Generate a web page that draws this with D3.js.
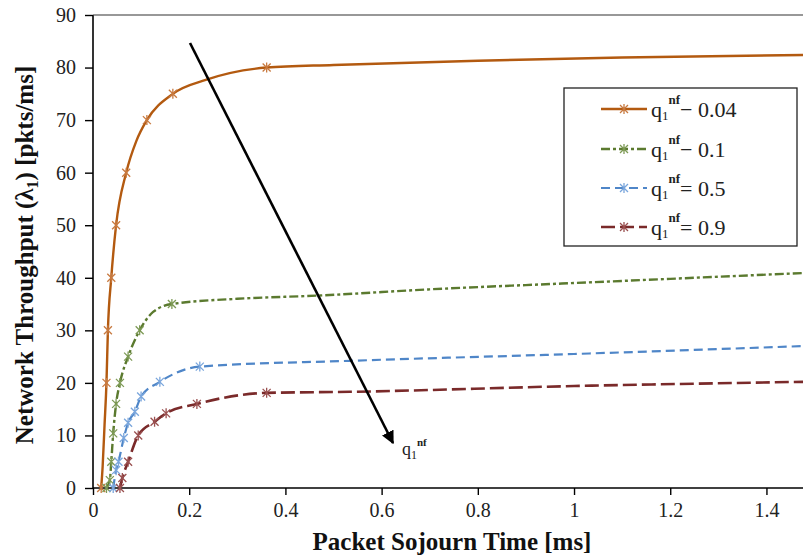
<!DOCTYPE html>
<html>
<head>
<meta charset="utf-8">
<script src="https://cdn.jsdelivr.net/npm/d3@7"></script>
<style>
  html, body { margin: 0; padding: 0; background: #fff; }
  svg { display: block; }
</style>
</head>
<body>
<svg id="chart" width="803" height="556" font-family="'Liberation Serif', 'Times New Roman', serif"></svg>
<script>
// ---- data ----
const xTicks = [0, 0.2, 0.4, 0.6, 0.8, 1, 1.2, 1.4];
const yTicks = [0, 10, 20, 30, 40, 50, 60, 70, 80, 90];

const seriesNames = ["0.04", "0.1", "0.5", "0.9"];
const seriesSigns = ["\u2212", "\u2212", "=", "="];

// line points [x, y] per series
const line004 = [[0.017,0],[0.020,4],[0.024,12],[0.028,20],[0.031,30],[0.038,40],[0.048,50],[0.069,60],[0.090,66],[0.112,70],[0.166,75],[0.236,77.7],[0.361,80],[0.5,80.5],[0.8,81.3],[1.1,81.9],[1.476,82.4]];
const line01  = [[0.028,0],[0.035,1.5],[0.038,5],[0.042,10.4],[0.048,16],[0.056,20],[0.073,25],[0.097,30],[0.125,33.5],[0.164,35],[0.3,36],[0.465,36.6],[0.7,37.8],[1.0,39],[1.2,39.8],[1.476,40.9]];
const line05  = [[0.042,0],[0.048,3.4],[0.053,5],[0.064,9.5],[0.073,12.4],[0.087,14.5],[0.100,17.4],[0.139,20.2],[0.222,23.1],[0.534,24.2],[1.0,25.5],[1.476,27]];
const line09  = [[0.056,0],[0.061,1.9],[0.073,5],[0.094,10],[0.128,12.6],[0.152,14.2],[0.216,16],[0.361,18.1],[0.534,18.3],[1.0,19.4],[1.476,20.2]];

// marker points [x, y] per series
const mark004 = [[0.017,0],[0.028,20],[0.031,30],[0.038,40],[0.048,50],[0.069,60],[0.112,70],[0.166,75],[0.361,80]];
const mark01  = [[0.028,0],[0.035,1.5],[0.038,5],[0.042,10.4],[0.048,16],[0.056,20],[0.073,25],[0.097,30],[0.164,35]];
const mark05  = [[0.042,0],[0.048,3.4],[0.053,5],[0.064,9.5],[0.073,12.4],[0.087,14.5],[0.100,17.4],[0.139,20.2],[0.222,23.1]];
const mark09  = [[0.056,0],[0.061,1.9],[0.073,5],[0.094,10],[0.128,12.6],[0.152,14.2],[0.216,16],[0.361,18.1]];

const lines = [line004, line01, line05, line09];
const marks = [mark004, mark01, mark05, mark09];

// ---- styles ----
const FONT = "'Liberation Serif', 'Times New Roman', serif";
const colors = ["#b35a10", "#5b7a2f", "#4f86c8", "#7a2a2a"];
const markColors = ["#c87a40", "#7d9a55", "#7aa6dc", "#9a5050"];
const dashes = [null, "9,3,3,3", "9,5", "14,5"];
const widths = [2.4, 2.4, 2.2, 2.6];

const svg = d3.select("#chart");
const x = d3.scaleLinear().domain([0, 1.476]).range([93, 803]);
const y = d3.scaleLinear().domain([0, 90]).range([488, 15]);

svg.append("defs").append("clipPath").attr("id", "clip")
  .append("rect").attr("x", 93).attr("y", 0).attr("width", 710).attr("height", 489);

// axes
const xAxis = d3.axisBottom(x).tickValues(xTicks).tickFormat(d3.format("~g")).tickSize(7).tickPadding(8);
const yAxis = d3.axisLeft(y).tickValues(yTicks).tickSize(8).tickPadding(9);

const gx = svg.append("g").attr("transform", "translate(0,488)").call(xAxis);
const gy = svg.append("g").attr("transform", "translate(93,0)").call(yAxis);
[gx, gy].forEach(g => {
  g.attr("font-family", FONT).attr("font-size", 20);
  g.select(".domain").attr("stroke", "#000").attr("stroke-width", 1.6);
  g.selectAll(".tick line").attr("stroke", "#000").attr("stroke-width", 1.4);
  g.selectAll(".tick text").attr("fill", "#222");
});
gy.select(".domain").attr("d", "M0,15V488");
gx.select(".domain").attr("d", "M93,0H803");

// top border
svg.append("line").attr("x1", 93).attr("x2", 803).attr("y1", 15).attr("y2", 15)
  .attr("stroke", "#333").attr("stroke-width", 1.2);

// axis titles
svg.append("text").attr("x", 452).attr("y", 550).attr("text-anchor", "middle")
  .attr("font-size", 25).attr("font-weight", "bold").attr("fill", "#111")
  .text("Packet Sojourn Time [ms]");

const yt = svg.append("text").attr("transform", "translate(33,255) rotate(-90)")
  .attr("text-anchor", "middle").attr("font-size", 25).attr("font-weight", "bold").attr("fill", "#111");
yt.append("tspan").text("Network Throughput (\u03bb");
yt.append("tspan").attr("dy", 5).attr("font-size", 16).text("1");
yt.append("tspan").attr("dy", -5).text(") [pkts/ms]");

// series
const lineGen = d3.line().x(d => x(d[0])).y(d => y(d[1])).curve(d3.curveMonotoneX);
const plot = svg.append("g").attr("clip-path", "url(#clip)");

function star(g, cx, cy, r, color) {
  const p = `M${cx - r},${cy - r}L${cx + r},${cy + r}M${cx - r},${cy + r}L${cx + r},${cy - r}M${cx},${cy - r - 1}L${cx},${cy + r + 1}`;
  g.append("path").attr("d", p).attr("stroke", color).attr("stroke-width", 1.3).attr("fill", "none");
}

lines.forEach((pts, i) => {
  plot.append("path").datum(pts).attr("d", lineGen)
    .attr("fill", "none").attr("stroke", colors[i]).attr("stroke-width", widths[i])
    .attr("stroke-dasharray", dashes[i]);
});
marks.forEach((pts, i) => {
  const g = svg.append("g");
  pts.forEach(p => star(g, x(p[0]), y(p[1]), 4, markColors[i]));
});

// arrow
svg.append("defs").append("marker").attr("id", "ah").attr("viewBox", "0 0 10 10")
  .attr("refX", 9).attr("refY", 5).attr("markerWidth", 5).attr("markerHeight", 5)
  .attr("orient", "auto").attr("markerUnits", "strokeWidth")
  .append("path").attr("d", "M0,0L10,5L0,10Z").attr("fill", "#000");
svg.append("line").attr("x1", 190).attr("y1", 43).attr("x2", 393).attr("y2", 443)
  .attr("stroke", "#000").attr("stroke-width", 2.6).attr("marker-end", "url(#ah)");

const al = svg.append("text").attr("x", 402).attr("y", 455).attr("font-size", 18).attr("fill", "#222");
al.append("tspan").text("q");
al.append("tspan").attr("dy", 4).attr("font-size", 12).text("1");
al.append("tspan").attr("dy", -13).attr("font-size", 11).attr("font-weight", "bold").text("nf");

// legend
svg.append("rect").attr("x", 564).attr("y", 88).attr("width", 233).attr("height", 158)
  .attr("fill", "#fff").attr("stroke", "#222").attr("stroke-width", 1.3);
const legY = [109, 149, 188, 227];
seriesNames.forEach((n, i) => {
  svg.append("line").attr("x1", 601).attr("x2", 647).attr("y1", legY[i]).attr("y2", legY[i])
    .attr("stroke", colors[i]).attr("stroke-width", widths[i]).attr("stroke-dasharray", dashes[i]);
  star(svg, 624, legY[i], 4, markColors[i]);
  const t = svg.append("text").attr("x", 651).attr("y", legY[i] + 8).attr("font-size", 22).attr("fill", "#222");
  t.append("tspan").text("q");
  t.append("tspan").attr("dy", 3).attr("font-size", 13).text("1");
  t.append("tspan").attr("dy", -16).attr("font-size", 13).attr("font-weight", "bold").text("nf");
  t.append("tspan").attr("dy", 13).text(seriesSigns[i] + " " + n);
});
</script>
</body>
</html>
